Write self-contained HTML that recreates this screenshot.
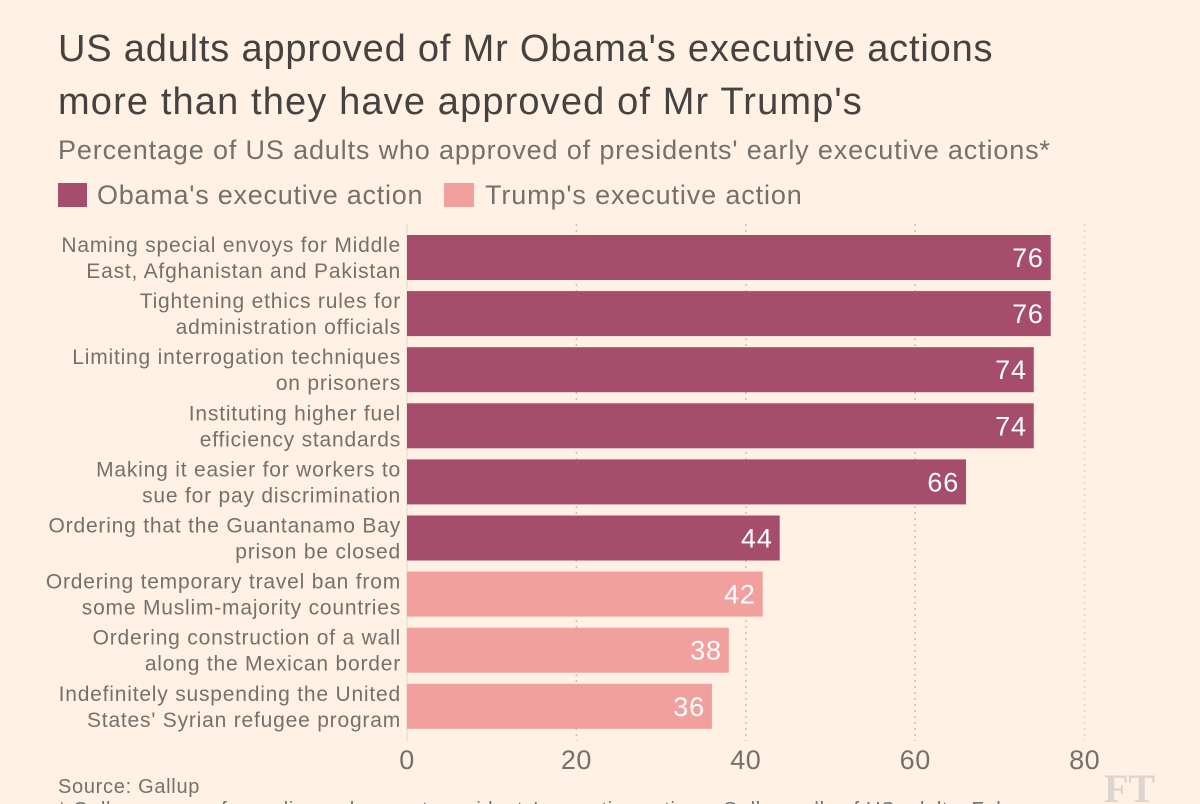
<!DOCTYPE html>
<html lang="en">
<head>
<meta charset="utf-8">
<title>US adults approved of Mr Obama's executive actions</title>
<style>
html,body{margin:0;padding:0;background:#fff1e3;}
#stage{position:relative;width:1200px;height:804px;overflow:hidden;background:#fff1e3;font-family:"Liberation Sans",sans-serif;}
svg{position:absolute;left:0;top:0;}
text{font-family:"Liberation Sans",sans-serif;}
</style>
</head>
<body>
<div id="stage">
<svg id="chart" width="1200" height="804" viewBox="0 0 1200 804">
  <text x="58" y="61" font-size="38" letter-spacing="0.82" fill="#45423f">US adults approved of Mr Obama's executive actions</text>
  <text x="58" y="114" font-size="38" letter-spacing="1.14" fill="#45423f">more than they have approved of Mr Trump's</text>
  <text x="58" y="159" font-size="27" letter-spacing="0.85" fill="#74716c">Percentage of US adults who approved of presidents' early executive actions*</text>
  <rect x="58" y="183" width="29" height="24" fill="#a54d6b"/>
  <text x="97" y="204" font-size="27" letter-spacing="0.75" fill="#74716c">Obama's executive action</text>
  <rect x="444" y="183" width="30" height="24" fill="#f2a09e"/>
  <text x="485" y="204" font-size="27" letter-spacing="0.87" fill="#74716c">Trump's executive action</text>
  <g id="grid"></g>
  <g id="bars"></g>
  <g id="labels"></g>
  <g id="ticks"></g>
  <text x="58" y="793" font-size="20" letter-spacing="0.7" fill="#74716c">Source: Gallup</text>
  <text x="58" y="816" font-size="20" letter-spacing="0.7" fill="#74716c">* Gallup surveys for earlier and current presidents' executive actions, Gallup polls of US adults, Feb</text>
  <text x="1104" y="802" font-size="40" font-weight="bold" fill="#dcd5cf" style="font-family:'Liberation Serif',serif">FT</text>
</svg>
</div>
<script>
const categories = [
  ["Naming special envoys for Middle", "East, Afghanistan and Pakistan"],
  ["Tightening ethics rules for", "administration officials"],
  ["Limiting interrogation techniques", "on prisoners"],
  ["Instituting higher fuel", "efficiency standards"],
  ["Making it easier for workers to", "sue for pay discrimination"],
  ["Ordering that the Guantanamo Bay", "prison be closed"],
  ["Ordering temporary travel ban from", "some Muslim-majority countries"],
  ["Ordering construction of a wall", "along the Mexican border"],
  ["Indefinitely suspending the United", "States' Syrian refugee program"]
];
const approvalValues = [76, 76, 74, 74, 66, 44, 42, 38, 36];
const presidents = ["Obama", "Obama", "Obama", "Obama", "Obama", "Obama", "Trump", "Trump", "Trump"];
const tickValues = [0, 20, 40, 60, 80];

const NS = "http://www.w3.org/2000/svg";
const seriesColor = { Obama: "#a54d6b", Trump: "#f2a09e" };
const xScale = v => 407 + v * 8.47;
const yScale = i => 235 + i * 56.1;
const bandHeight = 45;

function make(tag, attrs, parent, text) {
  const el = document.createElementNS(NS, tag);
  Object.keys(attrs).forEach(k => el.setAttribute(k, attrs[k]));
  if (text !== undefined) el.textContent = text;
  parent.appendChild(el);
  return el;
}

const gridG = document.getElementById("grid");
const barsG = document.getElementById("bars");
const labelsG = document.getElementById("labels");
const ticksG = document.getElementById("ticks");

tickValues.forEach(t => {
  const line = make("line", {
    x1: xScale(t), x2: xScale(t), y1: 224, y2: 741,
    stroke: t === 0 ? "#e0d7cc" : (t === 80 ? "#ded6cb" : "#c9c2b8"),
    "stroke-width": t === 0 ? 1 : 1.5,
    "stroke-dasharray": t === 0 ? "none" : "2 4"
  }, gridG);
  
  
  const label = make("text", {
    x: xScale(t), y: 769, "font-size": 27, "letter-spacing": 0.5, fill: "#74716c", "text-anchor": "middle"
  }, ticksG, String(t));
  
  
});

approvalValues.forEach((v, i) => {
  const bar = make("rect", {
    x: xScale(0), y: yScale(i), width: xScale(v) - xScale(0), height: bandHeight,
    fill: seriesColor[presidents[i]]
  }, barsG);
  
  
  const val = make("text", {
    x: xScale(v) - 7, y: yScale(i) + 32, "font-size": 27, "letter-spacing": 0.8, fill: "#ffffff", "text-anchor": "end"
  }, barsG, String(v));
  
  
  categories[i].forEach((line, j) => {
    const lab = make("text", {
      x: 401, y: yScale(i) + 17 + j * 26, "font-size": 21, "letter-spacing": 0.8, fill: "#74716c", "text-anchor": "end"
    }, labelsG, line);
    
    
  });
});
</script>
</body>
</html>
